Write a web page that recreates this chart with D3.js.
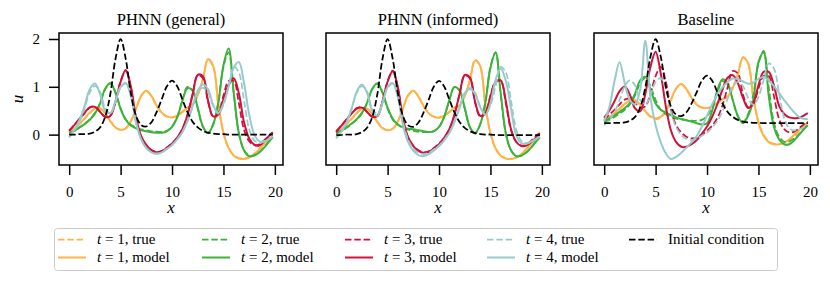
<!DOCTYPE html>
<html>
<head>
<meta charset="utf-8">
<script src="https://cdn.jsdelivr.net/npm/d3@7"></script>
<style>
  body { margin: 0; background: #fff; }
  svg text { font-family: "Liberation Serif", "DejaVu Serif", serif; fill: #000; }
</style>
</head>
<body>
<svg id="chart" width="830" height="283"></svg>
<script>
// x grid of the samples
var xs = [0,0.5,1,1.5,2,2.5,3,3.5,4,4.5,5,5.5,6,6.5,7,7.5,8,8.5,9,9.5,10,10.5,11,11.5,12,12.5,13,13.5,14,14.5,15,15.5,16,16.5,17,17.5,18,18.5,19,19.5,19.8];

// initial condition (black dashed)
var initial = [0.00,0.00,0.01,0.01,0.02,0.06,0.15,0.37,0.85,1.58,2.00,1.58,0.86,0.39,0.20,0.17,0.26,0.47,0.74,1.01,1.13,1.01,0.74,0.47,0.27,0.15,0.08,0.04,0.02,0.01,0.01,0.00,0.00,0.00,0.00,0.00,0.00,0.00,0.00,0.00,0.00];

// true solutions, t = 1..4 (dashed, same in every panel)
var true1 = [0.05,0.12,0.22,0.33,0.45,0.54,0.55,0.45,0.28,0.15,0.10,0.13,0.28,0.55,0.82,0.92,0.80,0.60,0.45,0.38,0.36,0.40,0.48,0.56,0.62,0.82,1.15,1.57,1.42,0.62,0.03,-0.28,-0.43,-0.49,-0.50,-0.47,-0.40,-0.30,-0.18,-0.08,-0.03];
var true2 = [0.03,0.08,0.15,0.23,0.32,0.45,0.66,0.95,1.07,0.88,0.55,0.32,0.21,0.15,0.11,0.09,0.07,0.06,0.06,0.08,0.17,0.37,0.72,1.00,0.92,0.55,0.16,0.03,0.22,0.68,1.42,1.72,0.85,0.02,-0.32,-0.44,-0.43,-0.36,-0.25,-0.12,-0.05];
var true3 = [0.08,0.20,0.32,0.45,0.56,0.58,0.48,0.38,0.40,0.70,1.12,1.34,0.98,0.32,-0.05,-0.22,-0.32,-0.36,-0.34,-0.27,-0.18,-0.06,0.12,0.42,0.85,1.24,1.18,0.68,0.38,0.45,0.82,1.12,1.12,0.65,0.10,-0.14,-0.22,-0.20,-0.11,-0.01,0.04];
var true4 = [-0.05,0.08,0.26,0.55,0.88,1.02,0.90,0.55,0.44,0.68,0.98,1.07,0.82,0.26,-0.10,-0.28,-0.37,-0.40,-0.37,-0.30,-0.22,-0.10,0.05,0.28,0.58,0.88,0.98,0.88,0.60,0.44,0.62,1.02,1.42,1.30,0.72,0.12,-0.12,-0.17,-0.14,-0.08,-0.04];

// PHNN (general) model
var general1 = [0.05,0.12,0.22,0.34,0.46,0.55,0.55,0.45,0.28,0.15,0.10,0.13,0.28,0.54,0.81,0.92,0.81,0.61,0.46,0.38,0.36,0.39,0.47,0.56,0.63,0.83,1.16,1.58,1.44,0.64,0.04,-0.28,-0.44,-0.50,-0.51,-0.48,-0.41,-0.30,-0.18,-0.08,-0.03];
var general2 = [0.03,0.08,0.15,0.22,0.31,0.44,0.65,0.96,1.08,0.88,0.54,0.31,0.19,0.13,0.09,0.07,0.05,0.04,0.04,0.07,0.16,0.36,0.70,0.97,0.92,0.56,0.17,0.03,0.21,0.66,1.45,1.80,0.88,0.03,-0.33,-0.45,-0.44,-0.37,-0.26,-0.13,-0.05];
var general3 = [0.08,0.20,0.33,0.46,0.57,0.58,0.48,0.37,0.39,0.68,1.10,1.35,1.00,0.35,-0.03,-0.22,-0.33,-0.37,-0.35,-0.28,-0.19,-0.07,0.11,0.40,0.83,1.25,1.22,0.72,0.38,0.42,0.74,1.04,1.18,0.86,0.26,-0.08,-0.21,-0.23,-0.13,-0.01,0.05];
var general4 = [-0.06,0.10,0.30,0.60,0.95,1.07,0.85,0.50,0.45,0.70,1.00,1.08,0.80,0.25,-0.10,-0.28,-0.37,-0.40,-0.37,-0.30,-0.22,-0.10,0.05,0.28,0.60,0.92,1.05,0.95,0.62,0.45,0.65,1.00,1.40,1.52,1.08,0.42,0.00,-0.14,-0.14,-0.08,-0.04];

// PHNN (informed) model
var informed1 = [0.05,0.12,0.23,0.34,0.46,0.55,0.55,0.44,0.27,0.14,0.10,0.13,0.29,0.56,0.83,0.92,0.80,0.60,0.45,0.38,0.36,0.40,0.48,0.57,0.62,0.81,1.13,1.55,1.44,0.63,0.04,-0.28,-0.43,-0.49,-0.50,-0.47,-0.40,-0.29,-0.17,-0.07,-0.02];
var informed2 = [0.03,0.09,0.16,0.24,0.33,0.46,0.67,0.96,1.08,0.89,0.57,0.34,0.22,0.16,0.13,0.12,0.10,0.08,0.06,0.08,0.17,0.38,0.73,1.00,0.93,0.56,0.17,0.04,0.22,0.67,1.40,1.72,0.86,0.03,-0.32,-0.44,-0.43,-0.36,-0.25,-0.12,-0.05];
var informed3 = [0.06,0.19,0.32,0.45,0.55,0.57,0.48,0.38,0.39,0.69,1.11,1.33,0.99,0.33,-0.05,-0.23,-0.33,-0.37,-0.35,-0.28,-0.19,-0.06,0.12,0.42,0.86,1.25,1.20,0.70,0.40,0.46,0.80,1.10,1.14,0.70,0.12,-0.14,-0.23,-0.22,-0.14,-0.04,0.02];
var informed4 = [-0.07,0.07,0.25,0.55,0.90,1.05,0.88,0.50,0.40,0.66,1.00,1.08,0.78,0.20,-0.15,-0.33,-0.42,-0.44,-0.40,-0.32,-0.23,-0.11,0.04,0.27,0.57,0.86,0.96,0.86,0.58,0.42,0.66,1.15,1.38,1.12,0.55,0.00,-0.17,-0.18,-0.13,-0.07,-0.03];

// Baseline model
var baseline1 = [0.07,0.14,0.24,0.35,0.46,0.54,0.54,0.44,0.28,0.16,0.12,0.15,0.30,0.56,0.83,0.93,0.81,0.60,0.44,0.37,0.36,0.40,0.48,0.57,0.64,0.84,1.17,1.56,1.42,0.60,0.02,-0.30,-0.45,-0.50,-0.50,-0.46,-0.38,-0.27,-0.15,-0.04,0.02];
var baseline2 = [0.03,0.11,0.19,0.27,0.36,0.48,0.70,1.02,1.10,0.80,0.47,0.32,0.25,0.19,0.14,0.10,0.07,0.04,0.00,-0.03,0.00,0.30,0.78,1.04,0.95,0.55,0.17,0.00,0.18,0.55,1.45,1.68,0.65,-0.08,-0.38,-0.50,-0.50,-0.40,-0.26,-0.12,-0.05];
var baseline3 = [0.13,0.30,0.52,0.76,0.87,0.68,0.35,0.28,0.70,1.34,1.70,1.18,0.39,-0.18,-0.45,-0.56,-0.56,-0.50,-0.40,-0.25,-0.08,0.15,0.45,0.80,1.08,1.14,0.95,0.60,0.36,0.48,0.90,1.22,1.22,0.90,0.42,0.22,0.14,0.12,0.13,0.20,0.24];
var baseline4 = [0.05,0.38,1.00,1.45,0.95,0.55,0.45,0.80,1.96,0.60,-0.05,-0.45,-0.72,-0.85,-0.80,-0.70,-0.58,-0.45,-0.30,-0.08,0.18,0.45,0.68,0.85,0.98,1.06,1.05,0.99,0.94,0.96,1.05,1.10,1.02,0.88,0.72,0.55,0.40,0.25,0.14,0.10,0.10];

var titles = ["PHNN (general)", "PHNN (informed)", "Baseline"];
var xTicks = [0, 5, 10, 15, 20];
var yTicks = [0, 1, 2];
var timeLabels = ["1", "2", "3", "4"];
var colors = ["#ffb347", "#3bb33b", "#d2103c", "#97cbcb"];

var trues = [true1, true2, true3, true4];
var panels = [
  {title: titles[0], left: 59, models: [general1, general2, general3, general4], yaxis: true},
  {title: titles[1], left: 326, models: [informed1, informed2, informed3, informed4], yaxis: false},
  {title: titles[2], left: 594, models: [baseline1, baseline2, baseline3, baseline4], yaxis: false}
];

var pw = 224, ph = 132, plotTop = 33;
var dashTrue = "6.5,2.8";
var serif = '"Liberation Serif", "DejaVu Serif", serif';

var svg = d3.select("#chart");
svg.append("rect").attr("width", 830).attr("height", 283).attr("fill", "#fff");

// x domain with matplotlib style 5% margin
var xr = d3.extent(xs);
var xpad = (xr[1] - xr[0]) * 0.05;

panels.forEach(function(p, pi) {
  var g = svg.append("g").attr("transform", "translate(" + p.left + "," + plotTop + ")");

  var all = [initial].concat(trues, p.models);
  var ymin = d3.min(all, function(a) { return d3.min(a); });
  var ymax = d3.max(all, function(a) { return d3.max(a); });
  var ypad = (ymax - ymin) * 0.05;

  var xScale = d3.scaleLinear().domain([xr[0] - xpad, xr[1] + xpad]).range([0, pw]);
  var yScale = d3.scaleLinear().domain([ymin - ypad, ymax + ypad]).range([ph, 0]);

  var line = d3.line()
    .curve(d3.curveCatmullRom.alpha(0.5))
    .x(function(d, i) { return xScale(xs[i]); })
    .y(function(d) { return yScale(d); });

  g.append("clipPath").attr("id", "clip" + pi)
    .append("rect").attr("width", pw).attr("height", ph);

  var plot = g.append("g").attr("clip-path", "url(#clip" + pi + ")");

  // true then model for every t, initial condition last
  for (var k = 0; k < 4; k++) {
    plot.append("path")
      .datum(trues[k])
      .attr("d", line)
      .attr("fill", "none")
      .attr("stroke", colors[k])
      .attr("stroke-width", 1.75)
      .attr("stroke-dasharray", dashTrue);
    plot.append("path")
      .datum(p.models[k])
      .attr("d", line)
      .attr("fill", "none")
      .attr("stroke", colors[k])
      .attr("stroke-width", 2);
  }
  plot.append("path")
    .datum(initial)
    .attr("d", line)
    .attr("fill", "none")
    .attr("stroke", "#000")
    .attr("stroke-width", 1.75)
    .attr("stroke-dasharray", dashTrue);

  // frame
  g.append("rect")
    .attr("width", pw).attr("height", ph)
    .attr("fill", "none").attr("stroke", "#000").attr("stroke-width", 1.5);

  // x axis
  var xAxis = d3.axisBottom(xScale).tickValues(xTicks).tickFormat(d3.format("d"))
    .tickSize(10).tickPadding(11).tickSizeOuter(0);
  var xg = g.append("g").attr("transform", "translate(0," + ph + ")").call(xAxis);
  xg.attr("font-family", null);
  xg.select(".domain").remove();
  xg.selectAll("line").attr("stroke", "#000").attr("stroke-width", 1.5);
  xg.selectAll("text").style("font-family", serif).style("font-size", "15px");

  g.append("text")
    .attr("x", pw / 2).attr("y", 180)
    .attr("text-anchor", "middle")
    .style("font-family", serif).style("font-size", "17px").style("font-style", "italic")
    .text("x");

  if (p.yaxis) {
    var yAxis = d3.axisLeft(yScale).tickValues(yTicks).tickFormat(d3.format("d"))
      .tickSize(10).tickPadding(9).tickSizeOuter(0);
    var yg = g.append("g").call(yAxis);
    yg.attr("font-family", null);
    yg.select(".domain").remove();
    yg.selectAll("line").attr("stroke", "#000").attr("stroke-width", 1.5);
    yg.selectAll("text").style("font-family", serif).style("font-size", "15px");

    g.append("text")
      .attr("transform", "translate(-36," + (ph / 2) + ") rotate(-90)")
      .attr("text-anchor", "middle")
      .style("font-family", serif).style("font-size", "17px").style("font-style", "italic")
      .text("u");
  }

  // title
  g.append("text")
    .attr("x", pw / 2).attr("y", -8.5)
    .attr("text-anchor", "middle")
    .style("font-family", serif).style("font-size", "16.5px")
    .text(p.title);
});

// legend, 5 columns filled column-wise
var legend = svg.append("g");
legend.append("rect")
  .attr("x", 54.5).attr("y", 228.5).attr("width", 723).attr("height", 42)
  .attr("rx", 3).attr("fill", "#fff").attr("fill-opacity", 0.8)
  .attr("stroke", "#cccccc").attr("stroke-width", 1);

var colX = [58, 202, 345, 487, 629];
var rowY = [239.5, 257.5];
var entries = [];
timeLabels.forEach(function(t, k) {
  entries.push({col: k, row: 0, color: colors[k], dash: true, t: t, rest: ", true"});
  entries.push({col: k, row: 1, color: colors[k], dash: false, t: t, rest: ", model"});
});
entries.push({col: 4, row: 0, color: "#000", dash: true, t: null, rest: "Initial condition"});

entries.forEach(function(e) {
  var lx = colX[e.col], ly = rowY[e.row];
  legend.append("line")
    .attr("x1", lx).attr("x2", lx + 28)
    .attr("y1", ly).attr("y2", ly)
    .attr("stroke", e.color)
    .attr("stroke-width", e.dash ? 1.75 : 2)
    .attr("stroke-dasharray", e.dash ? dashTrue : null);
  var txt = legend.append("text")
    .attr("x", lx + 39).attr("y", ly + 4.5)
    .style("font-family", serif).style("font-size", "15px");
  if (e.t !== null) {
    txt.append("tspan").style("font-style", "italic").text("t");
    txt.append("tspan").text(" = " + e.t + e.rest);
  } else {
    txt.text(e.rest);
  }
});
</script>
</body>
</html>
